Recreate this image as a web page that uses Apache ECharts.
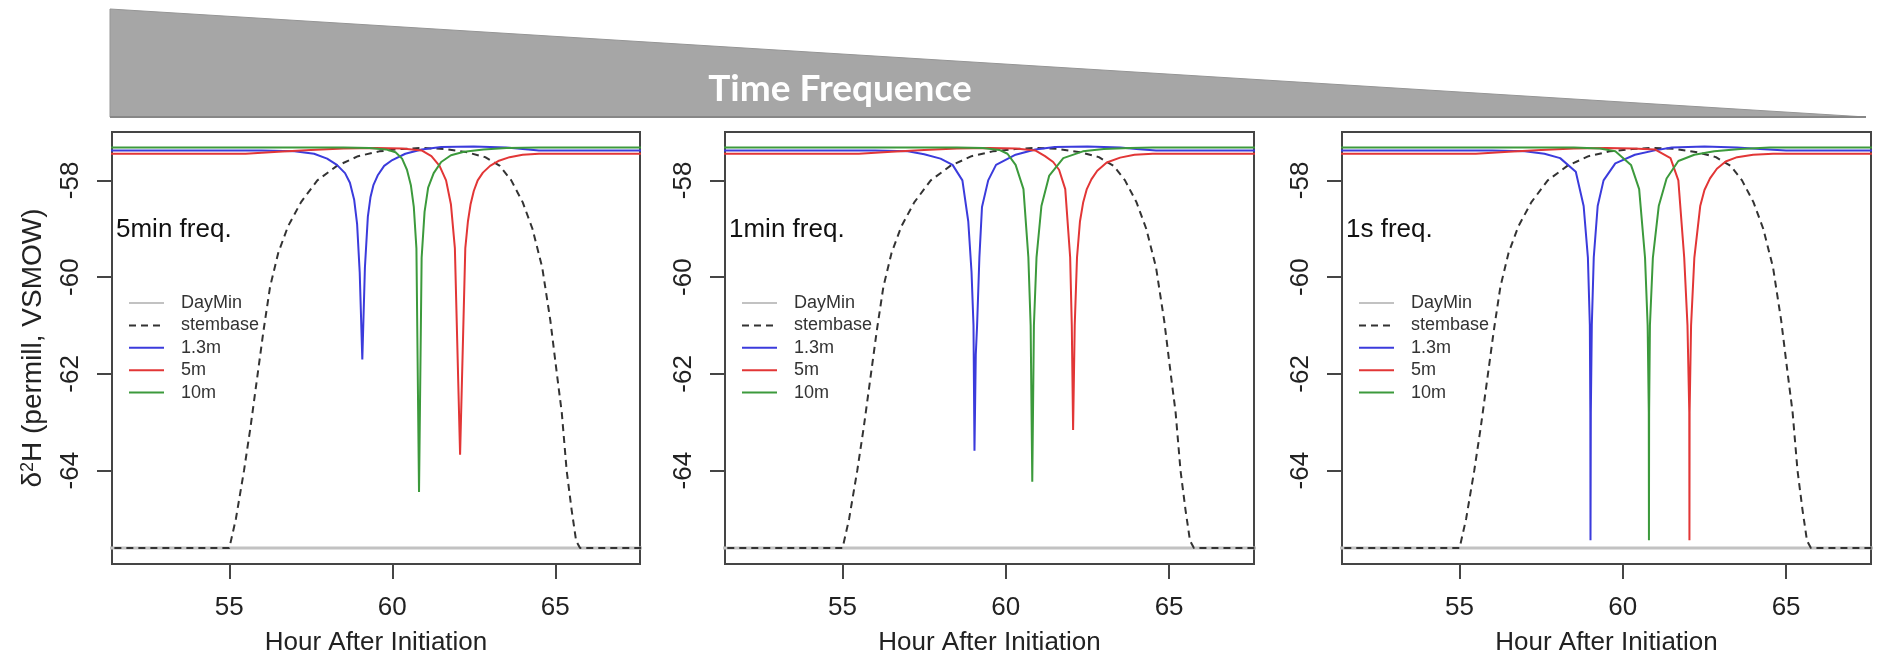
<!DOCTYPE html>
<html>
<head>
<meta charset="utf-8">
<script src="https://cdn.jsdelivr.net/npm/echarts@6/dist/echarts.min.js"></script>
<style>html,body{margin:0;padding:0;background:#fff}#chart{width:1879px;height:661px}</style>
</head>
<body>
<div id="chart"></div>
<script>
// ---------- data ----------
const panelLabels = ['5min freq.', '1min freq.', '1s freq.'];
const seriesNames = ['DayMin', 'stembase', '1.3m', '5m', '10m'];
const xTicks = [55, 60, 65];
const yTicks = [-64, -62, -60, -58];

const dayMinHours = [50, 70];
const dayMinValues = [-65.6, -65.6];

const stemHours = [50, 55.0, 55.2, 55.45, 55.65, 55.85, 56.05, 56.25, 56.5, 56.8, 57.2, 57.7, 58.3, 58.95, 59.6, 60.3, 60.9, 61.6, 62.3, 62.85, 63.3, 63.65, 64.0, 64.3, 64.6, 64.85, 65.05, 65.2, 65.35, 65.5, 65.64, 65.76, 70];
const stemValues = [-65.6, -65.6, -65.0, -64.0, -63.1, -62.1, -61.1, -60.2, -59.5, -58.95, -58.45, -58.0, -57.7, -57.5, -57.4, -57.35, -57.33, -57.35, -57.42, -57.52, -57.7, -58.0, -58.45, -59.0, -59.8, -60.9, -62.0, -62.8, -64.0, -64.8, -65.45, -65.6, -65.6];

// panel 1 (5 min)
const p1BlueHours = [50, 56.0, 57.0, 57.6, 58.0, 58.3, 58.55, 58.7, 58.83, 58.92, 59.0, 59.08, 59.16, 59.25, 59.33, 59.42, 59.55, 59.75, 60.0, 60.4, 60.9, 61.5, 62.5, 63.5, 64.0, 64.5, 70];
const p1BlueValues = [-57.38, -57.38, -57.40, -57.45, -57.55, -57.68, -57.85, -58.05, -58.4, -58.9, -59.9, -61.7, -59.8, -58.75, -58.35, -58.1, -57.9, -57.7, -57.58, -57.45, -57.36, -57.31, -57.30, -57.32, -57.35, -57.38, -57.38];
const p1RedHours = [50, 55.5, 56.5, 57.5, 58.5, 59.5, 60.3, 60.9, 61.2, 61.45, 61.65, 61.8, 61.92, 62.08, 62.24, 62.32, 62.4, 62.5, 62.62, 62.78, 63.0, 63.25, 63.6, 64.0, 64.5, 70];
const p1RedValues = [-57.45, -57.45, -57.41, -57.37, -57.34, -57.33, -57.34, -57.38, -57.5, -57.7, -58.0, -58.5, -59.4, -63.67, -59.4, -58.85, -58.5, -58.22, -58.0, -57.84, -57.7, -57.6, -57.52, -57.47, -57.45, -57.45];
const p1GreenHours = [50, 58.5, 59.3, 59.8, 60.1, 60.3, 60.45, 60.57, 60.66, 60.74, 60.82, 60.90, 60.99, 61.1, 61.27, 61.5, 61.8, 62.2, 62.8, 63.5, 64.5, 70];
const p1GreenValues = [-57.32, -57.32, -57.33, -57.36, -57.42, -57.55, -57.78, -58.1, -58.55, -59.4, -64.44, -59.6, -58.65, -58.15, -57.85, -57.62, -57.48, -57.41, -57.36, -57.33, -57.32, -57.32];

// panel 2 (1 min)
const p2BlueHours = [50, 56.0, 57.0, 57.5, 58.0, 58.37, 58.67, 58.85, 58.95, 59.01, 59.04, 59.08, 59.12, 59.19, 59.27, 59.46, 59.7, 60.3, 60.9, 61.5, 62.5, 63.5, 64.0, 64.6, 70];
const p2BlueValues = [-57.38, -57.38, -57.40, -57.46, -57.55, -57.68, -58.0, -58.85, -59.9, -61.0, -63.59, -61.6, -61.0, -59.6, -58.55, -58.0, -57.68, -57.47, -57.36, -57.31, -57.30, -57.32, -57.35, -57.38, -57.38];
const p2RedHours = [50, 55.5, 56.5, 57.5, 58.5, 59.5, 60.3, 60.9, 61.2, 61.45, 61.63, 61.82, 61.97, 62.02, 62.06, 62.11, 62.18, 62.27, 62.37, 62.48, 62.62, 62.8, 63.09, 63.5, 63.94, 64.5, 70];
const p2RedValues = [-57.45, -57.45, -57.41, -57.37, -57.34, -57.33, -57.34, -57.38, -57.5, -57.62, -57.78, -58.18, -59.59, -61.0, -63.16, -61.0, -59.59, -58.85, -58.45, -58.18, -57.98, -57.8, -57.63, -57.53, -57.47, -57.45, -57.45];
const p2GreenHours = [50, 58.5, 59.3, 59.8, 60.05, 60.3, 60.54, 60.69, 60.76, 60.81, 60.86, 60.94, 61.09, 61.33, 61.76, 62.36, 63.0, 63.8, 64.5, 70];
const p2GreenValues = [-57.32, -57.32, -57.33, -57.37, -57.45, -57.68, -58.18, -59.59, -61.0, -64.23, -61.0, -59.59, -58.53, -57.9, -57.54, -57.4, -57.35, -57.33, -57.32, -57.32];

// panel 3 (1 s)
const p3BlueHours = [50, 56.0, 57.0, 57.6, 58.08, 58.56, 58.8, 58.93, 58.99, 59.005, 59.01, 59.02, 59.05, 59.11, 59.23, 59.41, 59.77, 60.37, 60.98, 61.5, 62.5, 63.5, 64.2, 65.0, 70];
const p3BlueValues = [-57.38, -57.38, -57.40, -57.45, -57.54, -57.82, -58.53, -59.59, -61.0, -62.8, -65.44, -62.8, -61.0, -59.59, -58.53, -58.0, -57.65, -57.47, -57.38, -57.32, -57.30, -57.32, -57.35, -57.38, -57.38];
const p3RedHours = [50, 55.5, 56.5, 57.5, 58.5, 59.5, 60.3, 60.98, 61.46, 61.7, 61.88, 61.98, 62.035, 62.04, 62.045, 62.09, 62.19, 62.37, 62.5, 62.67, 62.88, 63.15, 63.5, 63.99, 64.6, 70];
const p3RedValues = [-57.45, -57.45, -57.41, -57.37, -57.34, -57.33, -57.34, -57.36, -57.54, -58.0, -59.6, -61.0, -62.8, -65.44, -62.8, -61.0, -59.6, -58.53, -58.2, -57.96, -57.76, -57.61, -57.52, -57.47, -57.45, -57.45];
const p3GreenHours = [50, 58.5, 59.3, 59.77, 60.25, 60.5, 60.68, 60.76, 60.795, 60.80, 60.805, 60.83, 60.92, 61.1, 61.34, 61.7, 62.19, 62.8, 63.6, 64.5, 70];
const p3GreenValues = [-57.32, -57.32, -57.34, -57.4, -57.68, -58.18, -59.6, -61.0, -62.8, -65.44, -62.8, -61.0, -59.6, -58.53, -57.96, -57.6, -57.47, -57.4, -57.35, -57.32, -57.32];

// ---------- chart ----------
function pairs(h, v) { return h.map((x, i) => [x, v[i]]); }

const panels = [
  { blue: pairs(p1BlueHours, p1BlueValues), red: pairs(p1RedHours, p1RedValues), green: pairs(p1GreenHours, p1GreenValues) },
  { blue: pairs(p2BlueHours, p2BlueValues), red: pairs(p2RedHours, p2RedValues), green: pairs(p2GreenHours, p2GreenValues) },
  { blue: pairs(p3BlueHours, p3BlueValues), red: pairs(p3RedHours, p3RedValues), green: pairs(p3GreenHours, p3GreenValues) }
];

const FONT = '"Liberation Sans", Arial, sans-serif';
const FRAME = '#454545';
const grids = [
  { left: 112, top: 132, width: 528, height: 433 },
  { left: 725, top: 132, width: 529, height: 433 },
  { left: 1342, top: 132, width: 529, height: 433 }
];
const COLORS = { DayMin: '#c2c2c2', stembase: '#333333', '1.3m': '#3b3bdc', '5m': '#e23636', '10m': '#3c9a3c' };

const series = [];
panels.forEach((p, i) => {
  const common = { type: 'line', xAxisIndex: i, yAxisIndex: i, symbol: 'none', showSymbol: false, emphasis: { disabled: true }, clip: true };
  series.push(Object.assign({}, common, { name: 'DayMin', data: pairs(dayMinHours, dayMinValues), lineStyle: { color: COLORS.DayMin, width: 3 }, itemStyle: { color: COLORS.DayMin }, z: 1 }));
  series.push(Object.assign({}, common, { name: 'stembase', data: pairs(stemHours, stemValues), lineStyle: { color: COLORS.stembase, width: 2, type: [7, 5] }, itemStyle: { color: COLORS.stembase }, z: 2 }));
  series.push(Object.assign({}, common, { name: '1.3m', data: p.blue, lineStyle: { color: COLORS['1.3m'], width: 2 }, itemStyle: { color: COLORS['1.3m'] }, z: 3 }));
  series.push(Object.assign({}, common, { name: '5m', data: p.red, lineStyle: { color: COLORS['5m'], width: 2 }, itemStyle: { color: COLORS['5m'] }, z: 4 }));
  series.push(Object.assign({}, common, { name: '10m', data: p.green, lineStyle: { color: COLORS['10m'], width: 2 }, itemStyle: { color: COLORS['10m'] }, z: 5 }));
});

const option = {
  animation: false,
  backgroundColor: '#ffffff',
  textStyle: { fontFamily: FONT },
  grid: grids.map(g => Object.assign({ show: true, borderColor: FRAME, borderWidth: 2, backgroundColor: 'transparent', containLabel: false }, g)),
  xAxis: grids.map((g, i) => ({
    gridIndex: i, type: 'value', min: 51.4, max: 67.6,
    axisLine: { show: false },
    axisTick: { show: true, customValues: xTicks, length: 15, lineStyle: { color: FRAME, width: 2 } },
    axisLabel: { customValues: xTicks, fontSize: 26, color: '#222', margin: 31, fontFamily: FONT },
    splitLine: { show: false },
    name: 'Hour After Initiation', nameLocation: 'middle', nameGap: 66,
    nameTextStyle: { fontSize: 26, color: '#222', fontFamily: FONT }
  })),
  yAxis: grids.map((g, i) => ({
    gridIndex: i, type: 'value', min: -65.93, max: -57.0,
    axisLine: { show: false },
    axisTick: { show: true, customValues: yTicks, length: 15, lineStyle: { color: FRAME, width: 2 } },
    axisLabel: { customValues: yTicks, fontSize: 26, color: '#222', margin: 28, rotate: 90, fontFamily: FONT },
    splitLine: { show: false },
    name: i === 0 ? '{d|δ}{s|2}{d|H (permill, VSMOW)}' : '',
    nameLocation: 'middle', nameGap: 65,
    nameTextStyle: {
      color: '#222', fontFamily: FONT,
      rich: {
        d: { fontSize: 28, color: '#222', fontFamily: FONT },
        s: { fontSize: 18, color: '#222', fontFamily: FONT, verticalAlign: 'top' }
      }
    }
  })),
  legend: grids.map(g => ({
    data: seriesNames, orient: 'vertical', left: g.left + 16, top: 294,
    itemWidth: 35, itemHeight: 12, itemGap: 4.4, padding: 0,
    itemStyle: { opacity: 0 },
    textStyle: { fontSize: 18, color: '#333', fontFamily: FONT, lineHeight: 18, padding: [0, 0, 0, 12] }
  })),
  graphic: [
    { type: 'polygon', silent: true, shape: { points: [[110, 9], [110, 117], [1866, 117]] }, style: { fill: '#a6a6a6', stroke: '#959595', lineWidth: 1 } },
    { type: 'line', silent: true, shape: { x1: 110, y1: 117, x2: 1866, y2: 117 }, style: { stroke: '#878787', lineWidth: 2 } },
    { type: 'text', silent: true, x: 840, y: 89, style: { text: 'Time Frequence', fill: '#ffffff', fontSize: 37, fontWeight: 'bold', fontFamily: 'Lato, "Open Sans", sans-serif', align: 'center', verticalAlign: 'middle' } }
  ].concat(grids.map((g, i) => ({
    type: 'text', silent: true, x: g.left + 4, y: 230,
    style: { text: panelLabels[i], fill: '#111', fontSize: 26, fontFamily: FONT, align: 'left', verticalAlign: 'middle' }
  }))),
  series: series
};

const chart = echarts.init(document.getElementById('chart'), null, { renderer: 'canvas' });
chart.setOption(option);
</script>
</body>
</html>
